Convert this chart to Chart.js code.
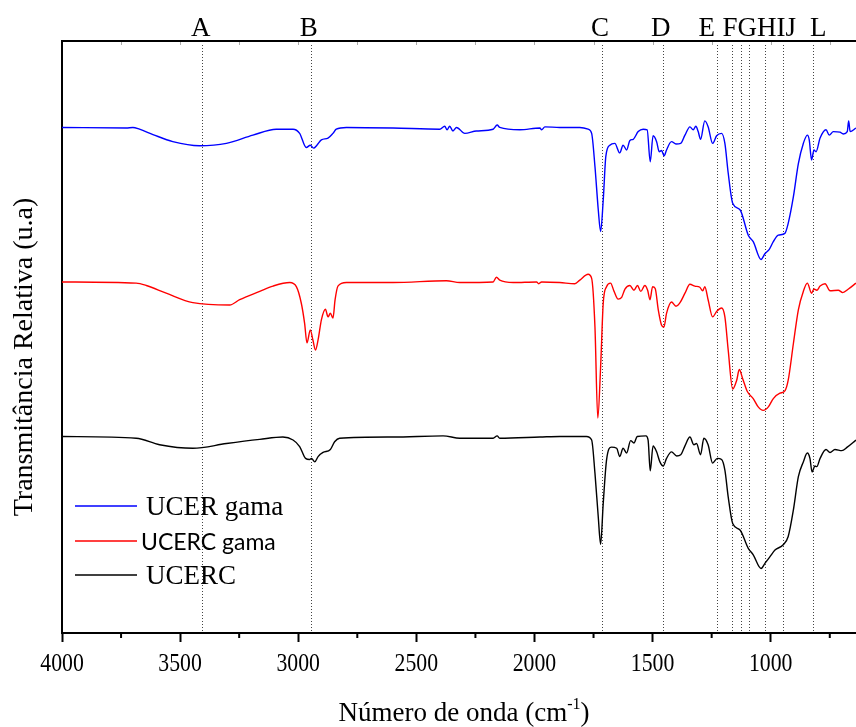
<!DOCTYPE html>
<html>
<head>
<meta charset="utf-8">
<script src="https://cdn.jsdelivr.net/npm/chart.js@4.4.1/dist/chart.umd.min.js"></script>
<style>
  html, body { margin: 0; padding: 0; background: #fff; }
  #wrap { width: 856px; height: 727px; }
</style>
</head>
<body>
<div id="wrap"><canvas id="ftirChart" width="856" height="727"></canvas></div>
<script>
// FTIR spectra, wavenumber (cm-1) vs relative transmittance (offset traces, u.a.)
const blueWn = [4000,3728,3700,3672,3615,3531,3418,3304,3192,3093,3022,2994,2966,2949,2935,2921,2902,2874,2853,2839,2796,2599,2401,2380,2370,2359,2345,2330,2295,2246,2175,2158,2147,2062,1977,1970,1956,1893,1808,1773,1758,1744,1730,1720,1709,1698,1681,1660,1639,1625,1610,1596,1582,1561,1540,1523,1510,1498,1483,1472,1462,1451,1441,1420,1401,1381,1363,1342,1328,1317,1307,1297,1279,1265,1246,1229,1208,1194,1180,1161,1130,1095,1074,1041,1024,1006,989,968,940,926,904,883,862,845,837,827,817,808,791,766,752,735,707,693,676,670,664,639];
const blueT = [85.4,85.3,85.4,85.1,84.2,83.0,82.3,82.7,84.1,85.1,85.1,84.4,82.0,82.4,81.9,82.4,83.3,83.6,84.4,85.1,85.4,85.3,85.1,85.6,85.0,85.6,84.8,85.4,84.4,84.8,85.1,85.8,85.4,85.0,85.3,85.0,85.5,85.4,85.4,85.1,84.4,78.8,71.5,67.8,73.1,80.5,82.4,82.7,81.1,82.4,81.6,83.2,83.4,84.7,85.1,85.0,79.6,84.0,83.0,81.3,81.5,80.6,81.6,83.0,82.6,82.7,84.1,85.5,85.0,85.6,84.7,83.4,86.5,85.5,82.7,84.0,84.4,82.7,77.7,72.6,71.5,67.2,66.1,63.1,64.1,64.8,66.1,67.2,67.5,69.2,73.7,79.3,82.7,84.1,83.3,79.9,81.6,81.3,83.6,85.0,84.1,84.7,84.6,84.3,84.7,86.5,84.7,85.3];

const redWn = [4000,3686,3643,3559,3446,3290,3248,3163,3107,3036,3008,2987,2973,2963,2949,2938,2927,2916,2902,2885,2874,2864,2853,2844,2832,2796,2599,2373,2316,2175,2161,2147,2090,1991,1982,1970,1893,1829,1808,1773,1758,1744,1732,1720,1709,1695,1678,1663,1646,1631,1617,1596,1579,1564,1550,1533,1521,1511,1500,1489,1476,1462,1452,1441,1420,1401,1384,1363,1342,1321,1300,1288,1279,1265,1246,1229,1208,1194,1180,1161,1144,1133,1119,1099,1074,1053,1032,1010,989,961,940,926,904,883,862,845,827,817,805,791,770,749,714,695,671,639];
const redT = [59.3,59.1,58.7,57.4,55.8,55.4,56.3,57.7,58.6,59.2,58.5,55.7,52.3,49.0,51.2,49.5,47.8,49.5,52.9,54.7,53.4,54.0,53.2,56.3,58.6,59.2,59.2,59.5,59.2,59.3,60.1,59.6,59.2,59.3,59.0,59.3,59.2,59.0,59.6,60.6,59.9,51.7,36.3,45.0,55.7,58.5,59.1,57.7,56.4,56.7,58.1,58.7,57.9,58.7,57.7,58.7,57.9,56.3,58.5,58.2,54.6,52.0,51.7,54.0,55.9,55.2,55.8,57.4,58.9,58.6,58.4,57.8,58.5,56.3,53.4,54.3,54.9,53.4,47.8,41.2,42.7,44.5,43.0,40.8,39.6,38.2,37.6,38.2,39.6,40.5,40.9,42.7,48.9,54.6,57.7,59.1,57.4,58.1,57.9,58.6,59.0,57.8,57.9,57.5,58.1,59.1];

const blackWn = [4000,3686,3587,3446,3304,3163,3065,3022,2994,2969,2952,2944,2930,2916,2895,2864,2846,2825,2599,2387,2316,2175,2158,2147,1977,1893,1780,1758,1744,1730,1720,1709,1695,1674,1652,1639,1625,1610,1593,1579,1565,1528,1519,1510,1498,1483,1469,1455,1441,1420,1398,1381,1363,1342,1325,1314,1297,1283,1265,1246,1226,1208,1194,1180,1161,1130,1095,1074,1041,1024,1003,982,947,926,904,883,862,845,834,825,813,805,791,766,749,728,699,676,639];
const blackT = [33.2,32.9,31.8,31.2,32.0,32.7,33.1,32.6,31.5,29.5,29.3,29.5,28.9,29.8,30.5,31.0,32.3,32.9,33.1,33.3,32.9,32.9,33.3,32.9,33.1,33.2,33.2,32.6,27.0,19.6,15.0,21.9,29.2,31.4,31.2,29.8,31.2,30.4,32.5,32.1,33.2,33.3,32.6,27.4,31.6,30.6,28.9,28.2,29.5,30.6,29.9,30.1,31.6,33.1,31.8,32.0,30.1,32.9,31.8,28.7,29.5,29.3,27.5,23.0,18.5,17.4,14.3,13.2,10.9,11.8,12.9,14.0,14.9,16.3,20.8,26.4,28.9,30.4,29.5,27.2,28.2,28.1,29.5,31.0,30.5,31.0,30.8,31.4,32.6];

// band assignments: dotted guide lines and their letters on top
const bandNames = ['A','B','C','D','E','F','G','H','I','J','L'];
const bandWn = [3408,2944,1716,1458,1229,1163,1127,1091,1024,947,820];
const labelWn = [3413,2955,1723,1466,1271,1172,1099,1017,956,915,799];

const majorTicks = [4000,3500,3000,2500,2000,1500,1000];
const minorTicks = [3750,3250,2750,2250,1750,1250,750];
const xMax = 4000, xMin = 639;

const serif = '"Liberation Serif", "Times New Roman", serif';

function toPoints(wn, t) {
  return wn.map((w, i) => ({ x: w, y: t[i] }));
}

const decorPlugin = {
  id: 'decor',
  beforeDatasetsDraw(chart) {
    const { ctx, chartArea: a, scales: { x } } = chart;
    ctx.save();
    ctx.strokeStyle = '#444';
    ctx.lineWidth = 1;
    ctx.setLineDash([1, 2]);
    bandWn.forEach(w => {
      const px = Math.round(x.getPixelForValue(w)) + 0.5;
      ctx.beginPath();
      ctx.moveTo(px, a.top + 4);
      ctx.lineTo(px, a.bottom);
      ctx.stroke();
    });
    ctx.restore();
  },
  afterDraw(chart) {
    const { ctx, chartArea: a, scales: { x } } = chart;
    ctx.save();

    // top frame line
    ctx.strokeStyle = '#000';
    ctx.lineWidth = 2;
    ctx.beginPath();
    ctx.moveTo(a.left - 1, a.top);
    ctx.lineTo(a.right, a.top);
    ctx.stroke();

    // short minor ticks under the x axis
    ctx.beginPath();
    minorTicks.forEach(v => {
      const px = x.getPixelForValue(v);
      ctx.moveTo(px, a.bottom);
      ctx.lineTo(px, a.bottom + 5);
    });
    ctx.stroke();

    // faint inner ticks below the top frame
    ctx.strokeStyle = '#aaa';
    ctx.lineWidth = 1;
    ctx.beginPath();
    majorTicks.concat(minorTicks).forEach(v => {
      const px = Math.round(x.getPixelForValue(v)) + 0.5;
      if (px > a.left + 2) {
        ctx.moveTo(px, a.top + 1);
        ctx.lineTo(px, a.top + 4);
      }
    });
    ctx.stroke();

    ctx.fillStyle = '#000';
    ctx.textBaseline = 'alphabetic';

    // wavenumber labels under the major ticks (narrow serif digits)
    ctx.font = '25px ' + serif;
    ctx.textAlign = 'center';
    majorTicks.forEach(v => {
      ctx.save();
      ctx.translate(x.getPixelForValue(v), 671);
      ctx.scale(0.87, 1);
      ctx.fillText(String(v), 0, 0);
      ctx.restore();
    });

    // band letters
    ctx.font = '27px ' + serif;
    bandNames.forEach((n, i) => ctx.fillText(n, x.getPixelForValue(labelWn[i]), 36));

    // x axis title with superscript
    const main = 'Número de onda (cm', sup = '-1', tail = ')';
    ctx.textAlign = 'left';
    ctx.font = '27px ' + serif;
    const wMain = ctx.measureText(main).width;
    const wTail = ctx.measureText(tail).width;
    ctx.font = '16px ' + serif;
    const wSup = ctx.measureText(sup).width;
    let tx = 464 - (wMain + wSup + wTail) / 2;
    const base = 721;
    ctx.font = '27px ' + serif;
    ctx.fillText(main, tx, base);
    tx += wMain;
    ctx.font = '16px ' + serif;
    ctx.fillText(sup, tx, base - 12);
    tx += wSup;
    ctx.font = '27px ' + serif;
    ctx.fillText(tail, tx, base);

    // y axis title
    ctx.save();
    ctx.translate(25, 357);
    ctx.rotate(-Math.PI / 2);
    ctx.textAlign = 'center';
    ctx.textBaseline = 'middle';
    ctx.font = '28px ' + serif;
    ctx.fillText('Transmitância Relativa (u.a)', 0, 0);
    ctx.restore();

    // legend
    const rows = [
      { y: 506, tx: 146, font: '27px ' + serif },
      { y: 541, tx: 141, font: '23px Lato, "Open Sans", sans-serif' },
      { y: 575, tx: 146, font: '27px ' + serif }
    ];
    chart.data.datasets.forEach((ds, i) => {
      const r = rows[i];
      ctx.strokeStyle = ds.borderColor;
      ctx.lineWidth = 1.3;
      ctx.beginPath();
      ctx.moveTo(75, r.y);
      ctx.lineTo(137, r.y);
      ctx.stroke();
      ctx.fillStyle = '#000';
      ctx.font = r.font;
      ctx.textAlign = 'left';
      ctx.textBaseline = 'middle';
      ctx.fillText(ds.label, r.tx, r.y + 2);
    });

    ctx.restore();
  }
};

const lineStyle = { borderWidth: 1.4, pointRadius: 0, cubicInterpolationMode: 'monotone', fill: false };

new Chart(document.getElementById('ftirChart'), {
  type: 'line',
  data: {
    datasets: [
      { label: 'UCER gama', data: toPoints(blueWn, blueT), borderColor: '#0000ff', ...lineStyle },
      { label: 'UCERC gama', data: toPoints(redWn, redT), borderColor: '#ff0000', ...lineStyle },
      { label: 'UCERC', data: toPoints(blackWn, blackT), borderColor: '#000000', ...lineStyle }
    ]
  },
  options: {
    responsive: false,
    animation: false,
    devicePixelRatio: 1,
    layout: { padding: { top: 41, right: 0, left: 0, bottom: 0 } },
    plugins: { legend: { display: false }, tooltip: { enabled: false } },
    scales: {
      x: {
        type: 'linear',
        reverse: true,
        min: xMin,
        max: xMax,
        afterBuildTicks: s => { s.ticks = majorTicks.map(v => ({ value: v })); },
        afterFit: s => { s.height = 94; s.paddingLeft = 0; s.paddingRight = 0; },
        grid: { display: true, drawOnChartArea: false, drawTicks: true, tickLength: 9, tickWidth: 2, tickColor: '#000' },
        border: { display: true, color: '#000', width: 2 },
        ticks: { display: false }
      },
      y: {
        min: 0,
        max: 100,
        ticks: { display: false },
        grid: { display: false },
        border: { display: true, color: '#000', width: 2 },
        afterFit: s => { s.width = 62; }
      }
    }
  },
  plugins: [decorPlugin]
});
</script>
</body>
</html>
